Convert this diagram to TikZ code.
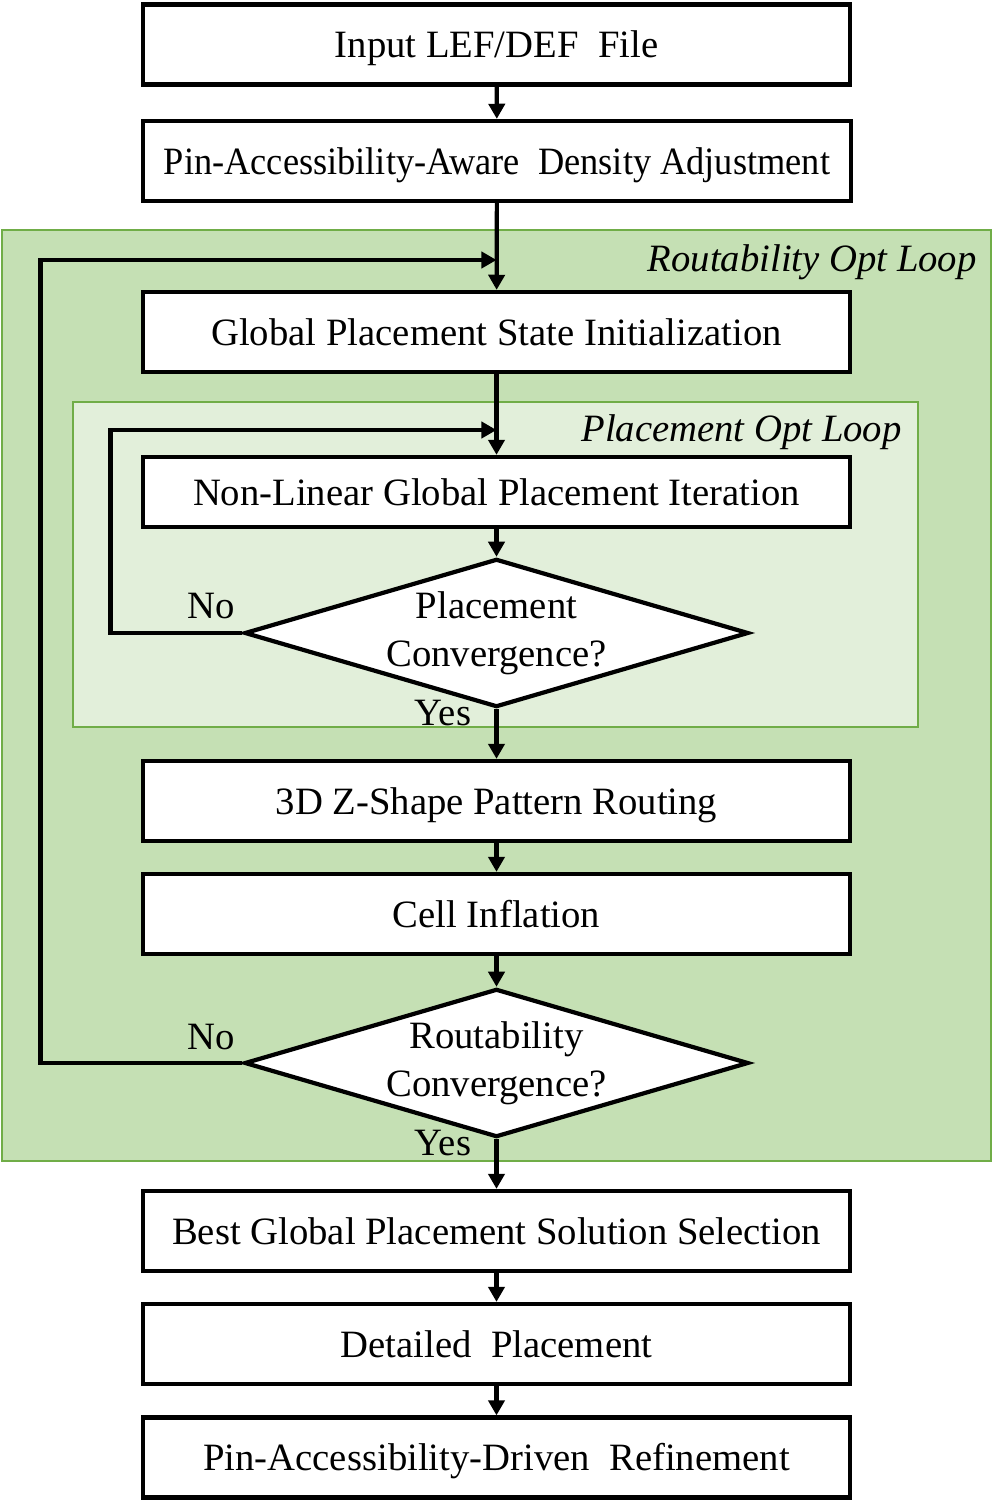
\documentclass[tikz,border=0pt]{standalone}
\usepackage{fontspec}
\usepackage{graphicx}
\setmainfont{Liberation Serif}
\usetikzlibrary{arrows.meta,positioning,shapes.geometric}
\definecolor{outerfill}{HTML}{C5E0B4}
\definecolor{innerfill}{HTML}{E2EFDA}
\definecolor{loopedge}{HTML}{70AD47}
\tikzset{
  stage/.style={rectangle, draw=black, fill=white, line width=1.2pt, minimum width=7.07cm, minimum height=0.8cm, inner sep=0pt, text height=0.75em, text depth=0pt, font=\fontsize{11}{13}\selectfont},
  check/.style={diamond, draw=black, fill=white, line width=1.2pt, aspect=3.4, minimum width=5.03cm, minimum height=1.48cm, inner sep=0pt, align=center, font=\fontsize{11}{13.7}\selectfont},
  flow/.style={-{Triangle[length=4.3pt, width=4.6pt]}, line width=1.2pt},
  loopbox/.style={draw=loopedge, line width=0.7pt},
  looptag/.style={anchor=east, font=\fontsize{11}{13}\selectfont\itshape},
  tag/.style={font=\fontsize{11}{13}\selectfont},
}

\begin{document}
\begin{tikzpicture}[x=0.01cm, y=-0.01cm]
  \useasboundingbox (0,0) rectangle (995,1500);
  % loop frames
  \draw[loopbox, fill=outerfill] (2,230) rectangle (991,1161);
  \draw[loopbox, fill=innerfill] (73,402) rectangle (918,727);
  \node[looptag] (rtag) at (989,262) {Routability Opt Loop};
  \node[looptag] (ptag) at (914,432) {Placement Opt Loop};

  % stages
  \node[stage] (inp) at (496.5,44.5) {Input LEF/DEF\ \ File};
  \node[stage] (dens) at (497,161) {\scalebox{0.94}[1]{Pin-Accessibility-Aware\ \ Density Adjustment}};
  \node[stage] (init) at (496.5,332) {Global Placement State Initialization};
  \node[stage, minimum height=0.7cm] (nlgp) at (496.5,492) {Non-Linear Global Placement Iteration};
  \node[check] (pconv) at (496.5,633) {Placement\\Convergence?};
  \node[stage] (route) at (496.5,801) {3D Z-Shape Pattern Routing};
  \node[stage] (infl) at (496.5,914) {Cell Inflation};
  \node[check] (rconv) at (496.5,1063) {Routability\\Convergence?};
  \node[stage] (best) at (496.5,1231) {Best Global Placement Solution Selection};
  \node[stage] (dp) at (496.5,1344) {Detailed\ \ Placement};
  \node[stage] (refine) at (496.5,1457.5) {Pin-Accessibility-Driven\ \ Refinement};

  \coordinate (rjoin) at (496.5,260);
  \coordinate (pjoin) at (496.5,430);

  % main flow
  \draw[flow] (inp) -- (dens);
  \draw[flow] (dens) -- (init);
  \draw[flow] (init) -- (nlgp);
  \draw[flow] (nlgp) -- (pconv);
  \draw[flow] (pconv) -- (route);
  \draw[flow] (route) -- (infl);
  \draw[flow] (infl) -- (rconv);
  \draw[flow] (rconv) -- (best);
  \draw[flow] (best) -- (dp);
  \draw[flow] (dp) -- (refine);

  % loops back
  \draw[flow] (pconv.west) -- ++(-132,0) |- (pjoin);
  \draw[flow] (rconv.west) -- ++(-202,0) |- (rjoin);

  \node[tag] (pno) at (211,606) {No};
  \node[tag] (pyes) at (443,713) {Yes};
  \node[tag] (rno) at (211,1037) {No};
  \node[tag] (ryes) at (443,1143) {Yes};
\end{tikzpicture}
\end{document}
